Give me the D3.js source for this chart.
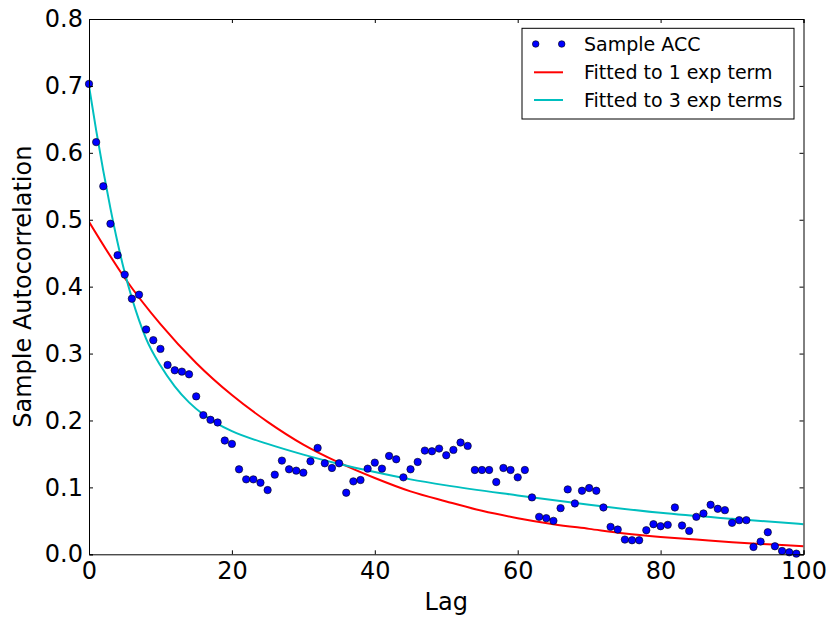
<!DOCTYPE html>
<html>
<head>
<meta charset="utf-8">
<script src="https://cdn.jsdelivr.net/npm/d3@7"></script>
<style>
  html, body { margin: 0; padding: 0; background: #fff; }
  svg { display: block; font-family: "DejaVu Sans", sans-serif; }
</style>
</head>
<body>
<svg id="chart" width="831" height="621"></svg>
<script>
// ---- Data ----
const sampleAcc = [
  0.703, 0.616, 0.550, 0.494, 0.447, 0.418, 0.382, 0.388, 0.336, 0.320,
  0.307, 0.283, 0.275, 0.273, 0.269, 0.236, 0.208, 0.201, 0.197, 0.170,
  0.165, 0.127, 0.112, 0.112, 0.107, 0.096, 0.119, 0.140, 0.127, 0.125,
  0.122, 0.139, 0.159, 0.136, 0.129, 0.136, 0.092, 0.109, 0.111, 0.128,
  0.137, 0.128, 0.147, 0.142, 0.115, 0.127, 0.138, 0.155, 0.154, 0.158,
  0.148, 0.156, 0.167, 0.162, 0.126, 0.126, 0.126, 0.108, 0.129, 0.126,
  0.115, 0.126, 0.085, 0.056, 0.054, 0.050, 0.069, 0.097, 0.076, 0.095,
  0.099, 0.095, 0.070, 0.041, 0.037, 0.022, 0.021, 0.021, 0.036, 0.045,
  0.042, 0.044, 0.070, 0.043, 0.035, 0.056, 0.061, 0.074, 0.068, 0.066,
  0.047, 0.051, 0.051, 0.011, 0.019, 0.033, 0.012, 0.005, 0.003, 0.001
];
const fit1Lags = [0, 5, 10, 15, 20, 25, 30, 35, 40, 45, 50, 55, 60, 65, 70, 75, 80, 85, 90, 95, 100];
const fit1Vals = [0.497, 0.413, 0.344, 0.286, 0.238, 0.198, 0.164, 0.137, 0.114, 0.094, 0.079,
                  0.065, 0.054, 0.045, 0.038, 0.031, 0.026, 0.022, 0.018, 0.015, 0.012];
const fit3Lags = [0, 1, 2, 3, 4, 5, 6, 7, 8, 10, 12, 14, 16, 18, 20, 25, 30, 35, 40, 45, 50, 60, 70, 80, 90, 100];
const fit3Vals = [0.700, 0.634, 0.573, 0.517, 0.466, 0.421, 0.383, 0.350, 0.322, 0.282, 0.251, 0.227,
                  0.209, 0.195, 0.184, 0.165, 0.149, 0.135, 0.123, 0.112, 0.103, 0.088, 0.074, 0.062, 0.053, 0.045];
const xTicks = [0, 20, 40, 60, 80, 100];
const yTicks = [0.0, 0.1, 0.2, 0.3, 0.4, 0.5, 0.6, 0.7, 0.8];
const legendLabels = ["Sample ACC", "Fitted to 1 exp term", "Fitted to 3 exp terms"];

// ---- Layout ----
const L = 89, R = 803.5, T = 19, B = 554.3;
const svg = d3.select("#chart");
const x = d3.scaleLinear().domain([0, 100]).range([L, R]);
const y = d3.scaleLinear().domain([0, 0.8]).range([B, T]);

svg.append("defs").append("clipPath").attr("id", "clip")
  .append("rect").attr("x", L).attr("y", T).attr("width", R - L).attr("height", B - T);

const plot = svg.append("g").attr("clip-path", "url(#clip)");

const line = d3.line().x(d => x(d[0])).y(d => y(d[1])).curve(d3.curveMonotoneX);

plot.append("path")
  .datum(fit1Lags.map((l, i) => [l, fit1Vals[i]]))
  .attr("d", line).attr("fill", "none").attr("stroke", "#ff0000").attr("stroke-width", 2);

plot.append("path")
  .datum(fit3Lags.map((l, i) => [l, fit3Vals[i]]))
  .attr("d", line).attr("fill", "none").attr("stroke", "#00bfbf").attr("stroke-width", 2);

svg.append("g").selectAll("circle")
  .data(sampleAcc.map((v, i) => [i, v]))
  .join("circle")
  .attr("cx", d => x(d[0])).attr("cy", d => y(d[1])).attr("r", 3.7)
  .attr("fill", "#0000ff").attr("stroke", "#000").attr("stroke-width", 0.6);

// ---- Axes ----
const fmtY = d3.format(".1f");
const axB = svg.append("g").attr("transform", `translate(0,${B})`)
  .call(d3.axisBottom(x).tickValues(xTicks).tickSize(-4).tickPadding(7.7).tickFormat(d3.format("d")));
const axL = svg.append("g").attr("transform", `translate(${L},0)`)
  .call(d3.axisLeft(y).tickValues(yTicks).tickSize(-4).tickPadding(6).tickFormat(fmtY));
const axT = svg.append("g").attr("transform", `translate(0,${T})`)
  .call(d3.axisTop(x).tickValues(xTicks).tickSize(-4).tickFormat(""));
const axR = svg.append("g").attr("transform", `translate(${R},0)`)
  .call(d3.axisRight(y).tickValues(yTicks).tickSize(-4).tickFormat(""));

[axB, axL, axT, axR].forEach(g => {
  g.selectAll(".domain").attr("stroke", "#000").attr("stroke-width", 1);
  g.selectAll(".tick line").attr("stroke", "#000").attr("stroke-width", 1);
  g.selectAll("text").attr("font-size", 24).attr("font-family", "DejaVu Sans").attr("fill", "#000");
});

svg.append("text").attr("x", (L + R) / 2).attr("y", 610)
  .attr("text-anchor", "middle").attr("font-size", 24).text("Lag");
svg.append("text")
  .attr("transform", `translate(31,${(T + B) / 2}) rotate(-90)`)
  .attr("text-anchor", "middle").attr("font-size", 24).text("Sample Autocorrelation");

// ---- Legend ----
const lg = svg.append("g");
lg.append("rect").attr("x", 522).attr("y", 28.3).attr("width", 272).attr("height", 90.7)
  .attr("fill", "#fff").attr("stroke", "#000").attr("stroke-width", 1);
const rowY = [44, 72.3, 100];
lg.selectAll("circle.lgd").data([535.7, 561.7]).join("circle")
  .attr("cx", d => d).attr("cy", rowY[0]).attr("r", 3.3)
  .attr("fill", "#0000ff").attr("stroke", "#000").attr("stroke-width", 0.6);
lg.append("line").attr("x1", 534).attr("x2", 563).attr("y1", rowY[1]).attr("y2", rowY[1])
  .attr("stroke", "#ff0000").attr("stroke-width", 2);
lg.append("line").attr("x1", 534).attr("x2", 563).attr("y1", rowY[2]).attr("y2", rowY[2])
  .attr("stroke", "#00bfbf").attr("stroke-width", 2);
lg.selectAll("text").data(legendLabels).join("text")
  .attr("x", 584).attr("y", (d, i) => rowY[i]).attr("dy", "0.35em")
  .attr("font-size", 19).text(d => d);
</script>
</body>
</html>
